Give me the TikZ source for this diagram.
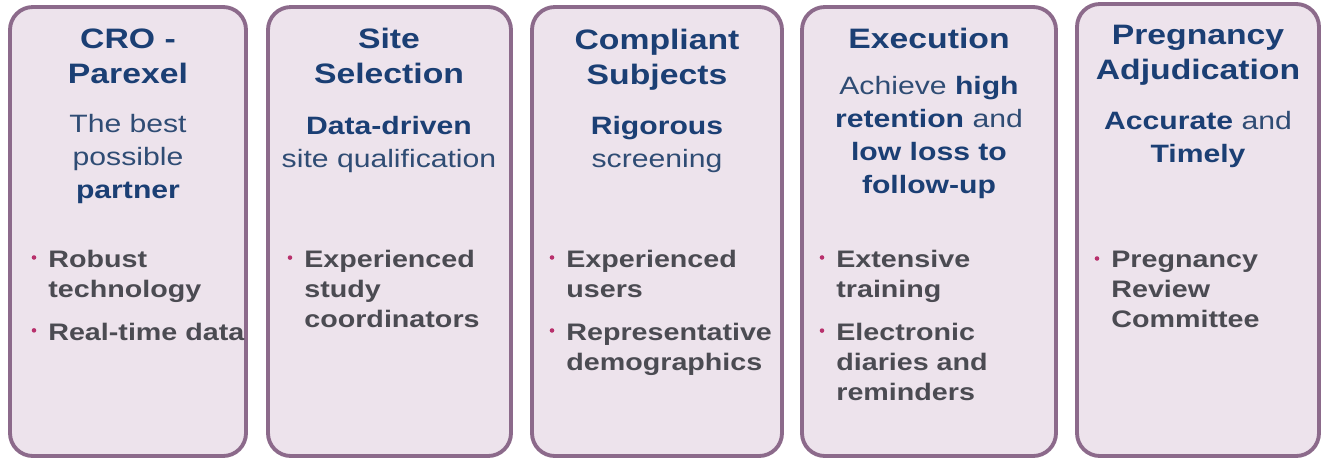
\documentclass[tikz,border=0pt]{standalone}
\usepackage{fontspec}
\setmainfont{Liberation Sans}[FakeStretch=1.2]
\usetikzlibrary{positioning}
\definecolor{panelfill}{HTML}{EDE3EC}
\definecolor{panelline}{HTML}{8C6A8B}
\definecolor{headblue}{HTML}{1B3F74}
\definecolor{subblue}{HTML}{2F4C74}
\definecolor{itemgray}{HTML}{4B4B52}
\definecolor{dotpink}{HTML}{B8306C}
\newcommand{\keyw}[1]{{\bfseries\color{headblue}#1}}

\begin{document}
\begin{tikzpicture}[x=0.02cm,y=-0.02cm,
panel/.style = {draw = panelline, fill = panelfill, line width = 2.2pt, rounded corners = 13pt},
head/.style = {font = \fontsize{16}{19.8}\selectfont\bfseries, text = headblue, align = center, anchor = base, inner sep = 0pt},
sub/.style = {font = \fontsize{14.3}{18.7}\selectfont, text = subblue, align = center, anchor = base, inner sep = 0pt},
item/.style = {font = \fontsize{13.6}{17}\selectfont\bfseries, text = itemgray, align = left, anchor = base west, inner sep = 0pt},
bulletdot/.style = {fill = dotpink},]
\useasboundingbox (0,0) rectangle (1323,461);
\foreach \l/\t/\r in {10/7/246, 268/7/511, 532/7/782, 802/7/1056, 1077/4/1319}
  \draw[panel] (\l,\t) rectangle (\r,456);
% titles (placed at the baseline of their last line)
\node (h1) at (128,83)[head] {CRO -\\Parexel};
\node (h2) at (389,83)[head] {Site\\Selection};
\node (h3) at (657,84)[head] {Compliant\\Subjects};
\node (h4) at (929,48)[head] {Execution};
\node (h5) at (1198,79)[head] {Pregnancy\\Adjudication};
% key messages
\node (s1) at (128,198)[sub] {The best\\possible\\\keyw{partner}};
\node (s2) at (389,167)[sub] {\keyw{Data-driven}\\site qualification};
\node (s3) at (657,167)[sub] {\keyw{Rigorous}\\screening};
\node (s4) at (929,193)[sub] {Achieve \keyw{high}\\\keyw{retention} and\\\keyw{low loss to}\\\keyw{follow-up}};
\node (s5) at (1198,162)[sub] {\keyw{Accurate} and\\\keyw{Timely}};
% bullet points
\node (i1a) at (48,297)[item] {Robust\\technology};
\node (i1b) at (48,340)[item] {Real-time data};
\node (i2a) at (304,327)[item] {Experienced\\study\\coordinators};
\node (i3a) at (566,297)[item] {Experienced\\users};
\node (i3b) at (566,370)[item] {Representative\\demographics};
\node (i4a) at (836,297)[item] {Extensive\\training};
\node (i4b) at (836,400)[item] {Electronic\\diaries and\\reminders};
\node (i5a) at (1111,327)[item] {Pregnancy\\Review\\Committee};
\foreach \n in {i1a,i1b,i2a,i3a,i3b,i4a,i4b,i5a}
  \fill[bulletdot] (\n.north west) ++(-14,8) circle (1.3pt);
\end{tikzpicture}
\end{document}
